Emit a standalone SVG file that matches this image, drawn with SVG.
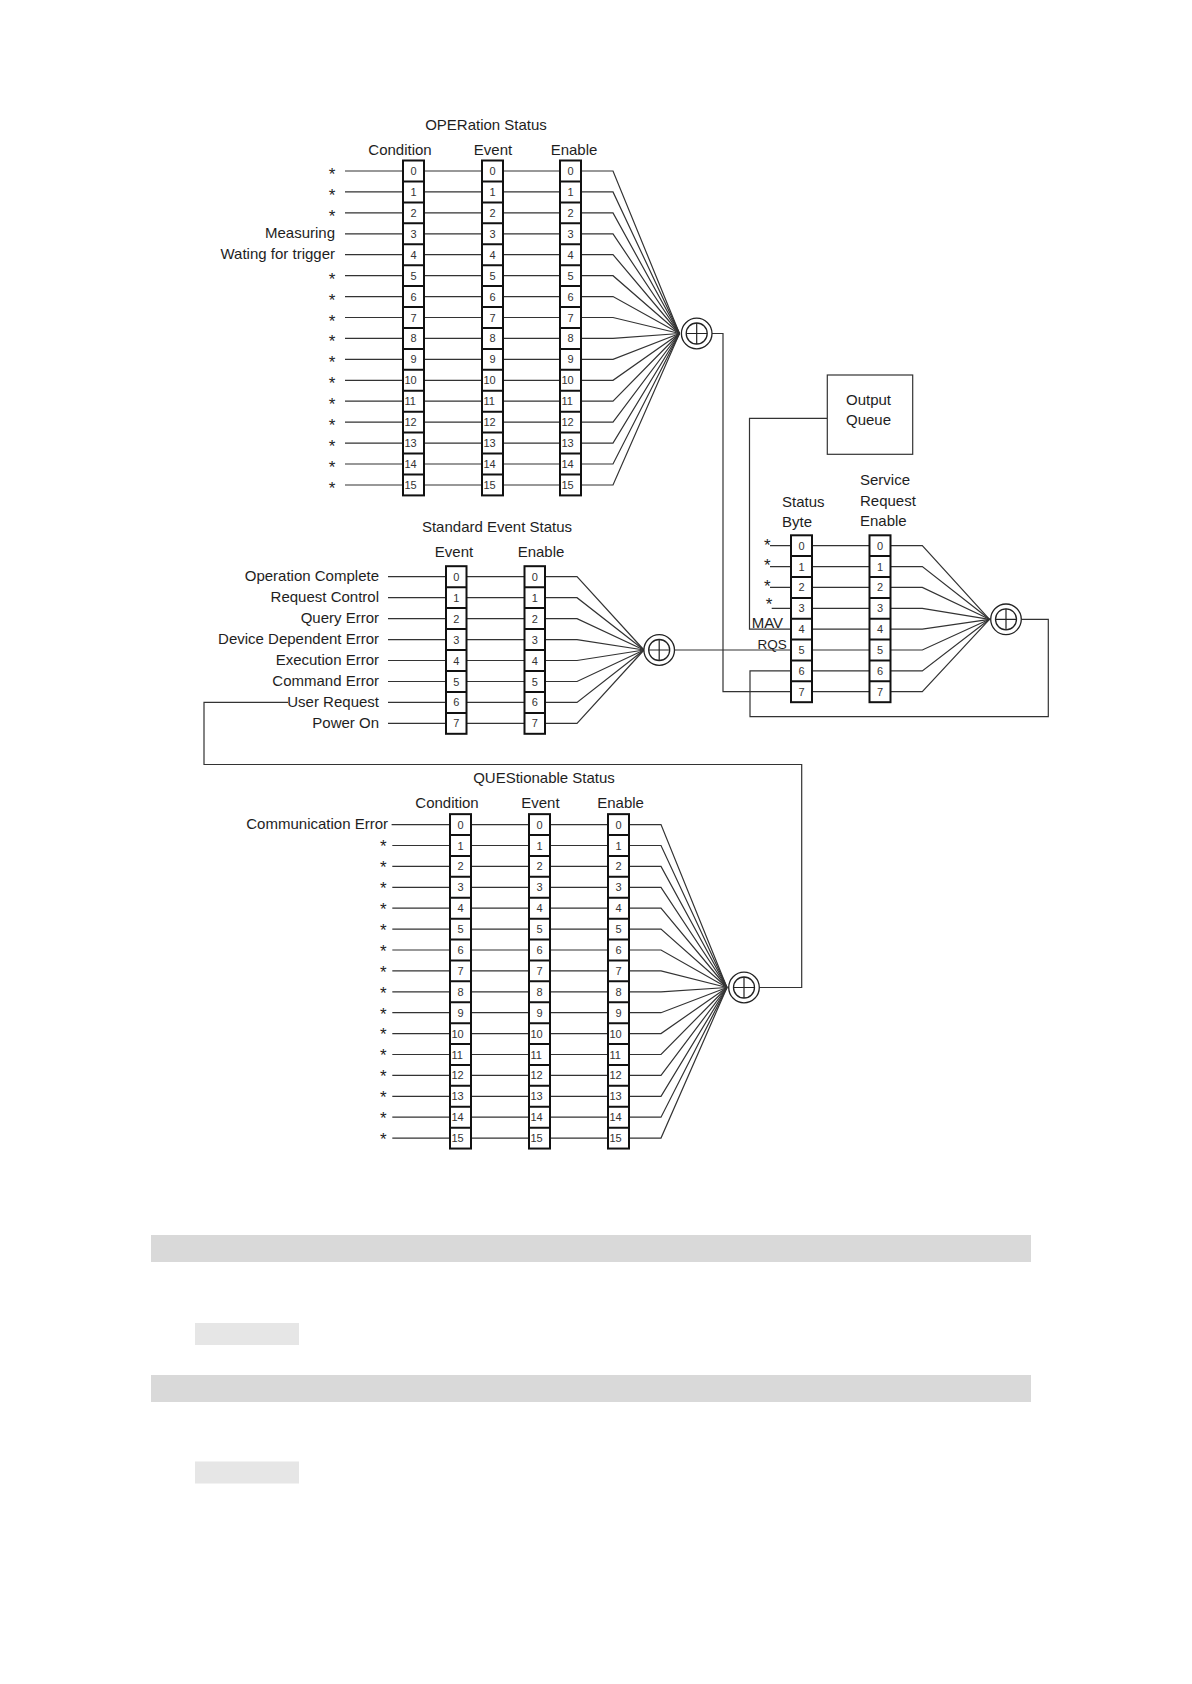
<svg xmlns="http://www.w3.org/2000/svg" width="1192" height="1684" viewBox="0 0 1192 1684">
<style>
text{font-family:"Liberation Sans",Arial,sans-serif;font-size:15px;fill:#1e1e1e}
.r{text-anchor:end}
.m{text-anchor:middle}
.st{font-size:17px;text-anchor:middle}
.d{font-size:11px;text-anchor:middle;fill:#333}
.dd{font-size:11px;fill:#333}
.reg{fill:#fff;stroke:#111;stroke-width:2}
.dv{fill:none;stroke:#111;stroke-width:2}
.ln{fill:none;stroke:#333;stroke-width:1.2}
.xo{fill:#fff;stroke:#222;stroke-width:1.3}
.xc{fill:none;stroke:#222;stroke-width:1.2}
.bar{fill:#d9d9d9}
.sb{fill:#e6e6e6}
</style>
<rect width="1192" height="1684" fill="#fff"/>

<g id="connectors">
<!-- OPERation rows -->
<path class="ln" d="M345 171H403M424 171H482M503 171H560M581 171H613L679.5 333.5"/>
<path class="ln" d="M345 191.9H403M424 191.9H482M503 191.9H560M581 191.9H613L679.5 333.5"/>
<path class="ln" d="M345 212.9H403M424 212.9H482M503 212.9H560M581 212.9H613L679.5 333.5"/>
<path class="ln" d="M345 233.8H403M424 233.8H482M503 233.8H560M581 233.8H613L679.5 333.5"/>
<path class="ln" d="M345 254.7H403M424 254.7H482M503 254.7H560M581 254.7H613L679.5 333.5"/>
<path class="ln" d="M345 275.7H403M424 275.7H482M503 275.7H560M581 275.7H613L679.5 333.5"/>
<path class="ln" d="M345 296.6H403M424 296.6H482M503 296.6H560M581 296.6H613L679.5 333.5"/>
<path class="ln" d="M345 317.5H403M424 317.5H482M503 317.5H560M581 317.5H613L679.5 333.5"/>
<path class="ln" d="M345 338.4H403M424 338.4H482M503 338.4H560M581 338.4H613L679.5 333.5"/>
<path class="ln" d="M345 359.4H403M424 359.4H482M503 359.4H560M581 359.4H613L679.5 333.5"/>
<path class="ln" d="M345 380.3H403M424 380.3H482M503 380.3H560M581 380.3H613L679.5 333.5"/>
<path class="ln" d="M345 401.2H403M424 401.2H482M503 401.2H560M581 401.2H613L679.5 333.5"/>
<path class="ln" d="M345 422.2H403M424 422.2H482M503 422.2H560M581 422.2H613L679.5 333.5"/>
<path class="ln" d="M345 443.1H403M424 443.1H482M503 443.1H560M581 443.1H613L679.5 333.5"/>
<path class="ln" d="M345 464H403M424 464H482M503 464H560M581 464H613L679.5 333.5"/>
<path class="ln" d="M345 485H403M424 485H482M503 485H560M581 485H613L679.5 333.5"/>
<path class="ln" d="M712 333.5H723V691.7H791"/>

<!-- Standard Event rows -->
<path class="ln" d="M388 576.7H446M466.5 576.7H524.5M545 576.7H577L644 650"/>
<path class="ln" d="M388 597.7H446M466.5 597.7H524.5M545 597.7H577L644 650"/>
<path class="ln" d="M388 618.6H446M466.5 618.6H524.5M545 618.6H577L644 650"/>
<path class="ln" d="M388 639.6H446M466.5 639.6H524.5M545 639.6H577L644 650"/>
<path class="ln" d="M388 660.5H446M466.5 660.5H524.5M545 660.5H577L644 650"/>
<path class="ln" d="M388 681.5H446M466.5 681.5H524.5M545 681.5H577L644 650"/>
<path class="ln" d="M388 702.4H446M466.5 702.4H524.5M545 702.4H577L644 650"/>
<path class="ln" d="M388 723.4H446M466.5 723.4H524.5M545 723.4H577L644 650"/>
<path class="ln" d="M674.5 650H791"/>

<!-- Status byte / SRE -->
<path class="ln" d="M827.3 418.3H749.5V629.1H791"/>
<path class="ln" d="M770 545.7H791M812 545.7H869.5M890.5 545.7H922.3L989.5 619.3"/>
<path class="ln" d="M770 566.6H791M812 566.6H869.5M890.5 566.6H922.3L989.5 619.3"/>
<path class="ln" d="M770 587.4H791M812 587.4H869.5M890.5 587.4H922.3L989.5 619.3"/>
<path class="ln" d="M771.7 608.3H791M812 608.3H869.5M890.5 608.3H922.3L989.5 619.3"/>
<path class="ln" d="M812 629.1H869.5M890.5 629.1H922.3L989.5 619.3"/>
<path class="ln" d="M812 650H869.5M890.5 650H922.3L989.5 619.3"/>
<path class="ln" d="M812 670.9H869.5M890.5 670.9H922.3L989.5 619.3"/>
<path class="ln" d="M812 691.7H869.5M890.5 691.7H922.3L989.5 619.3"/>
<path class="ln" d="M1021.3 619.3H1048.3V716.7H750V670.9H791"/>

<!-- QUEStionable rows -->
<path class="ln" d="M391.6 824.6H450M471 824.6H529M550 824.6H608M629 824.6H661L727 987.5"/>
<path class="ln" d="M392.3 845.5H450M471 845.5H529M550 845.5H608M629 845.5H661L727 987.5"/>
<path class="ln" d="M392.3 866.4H450M471 866.4H529M550 866.4H608M629 866.4H661L727 987.5"/>
<path class="ln" d="M392.3 887.3H450M471 887.3H529M550 887.3H608M629 887.3H661L727 987.5"/>
<path class="ln" d="M392.3 908.2H450M471 908.2H529M550 908.2H608M629 908.2H661L727 987.5"/>
<path class="ln" d="M392.3 929.1H450M471 929.1H529M550 929.1H608M629 929.1H661L727 987.5"/>
<path class="ln" d="M392.3 950H450M471 950H529M550 950H608M629 950H661L727 987.5"/>
<path class="ln" d="M392.3 970.9H450M471 970.9H529M550 970.9H608M629 970.9H661L727 987.5"/>
<path class="ln" d="M392.3 991.8H450M471 991.8H529M550 991.8H608M629 991.8H661L727 987.5"/>
<path class="ln" d="M392.3 1012.7H450M471 1012.7H529M550 1012.7H608M629 1012.7H661L727 987.5"/>
<path class="ln" d="M392.3 1033.6H450M471 1033.6H529M550 1033.6H608M629 1033.6H661L727 987.5"/>
<path class="ln" d="M392.3 1054.5H450M471 1054.5H529M550 1054.5H608M629 1054.5H661L727 987.5"/>
<path class="ln" d="M392.3 1075.4H450M471 1075.4H529M550 1075.4H608M629 1075.4H661L727 987.5"/>
<path class="ln" d="M392.3 1096.3H450M471 1096.3H529M550 1096.3H608M629 1096.3H661L727 987.5"/>
<path class="ln" d="M392.3 1117.2H450M471 1117.2H529M550 1117.2H608M629 1117.2H661L727 987.5"/>
<path class="ln" d="M392.3 1138.1H450M471 1138.1H529M550 1138.1H608M629 1138.1H661L727 987.5"/>
<path class="ln" d="M759.3 987.5H801.7V764.5H204V702.4H288"/>
</g>

<!-- OPERation Status -->
<g id="oper-labels">
<text class="m" x="486" y="130">OPERation Status</text>
<text class="m" x="400" y="155">Condition</text>
<text class="m" x="493" y="155">Event</text>
<text class="m" x="574" y="155">Enable</text>
<text class="st" x="332" y="180">*</text>
<text class="st" x="332" y="200.9">*</text>
<text class="st" x="332" y="221.9">*</text>
<text class="r" x="335" y="238.3">Measuring</text>
<text class="r" x="335" y="259.2">Wating for trigger</text>
<text class="st" x="332" y="284.7">*</text>
<text class="st" x="332" y="305.6">*</text>
<text class="st" x="332" y="326.5">*</text>
<text class="st" x="332" y="347.4">*</text>
<text class="st" x="332" y="368.4">*</text>
<text class="st" x="332" y="389.3">*</text>
<text class="st" x="332" y="410.2">*</text>
<text class="st" x="332" y="431.2">*</text>
<text class="st" x="332" y="452.1">*</text>
<text class="st" x="332" y="473">*</text>
<text class="st" x="332" y="494">*</text>
</g>
<g id="oper-condition" transform="translate(403,0)">
<rect class="reg" x="0" y="160.5" width="21" height="334.9"/>
<path class="dv" d="M0 181.4h21M0 202.4h21M0 223.3h21M0 244.2h21M0 265.2h21M0 286.1h21M0 307h21M0 327.9h21M0 348.9h21M0 369.8h21M0 390.7h21M0 411.7h21M0 432.6h21M0 453.5h21M0 474.5h21"/>
<text class="d" x="10.5" y="175">0</text><text class="d" x="10.5" y="195.9">1</text><text class="d" x="10.5" y="216.9">2</text><text class="d" x="10.5" y="237.8">3</text><text class="d" x="10.5" y="258.7">4</text><text class="d" x="10.5" y="279.7">5</text><text class="d" x="10.5" y="300.6">6</text><text class="d" x="10.5" y="321.5">7</text><text class="d" x="10.5" y="342.4">8</text><text class="d" x="10.5" y="363.4">9</text>
<text class="dd" x="1.5" y="384.3">10</text><text class="dd" x="1.5" y="405.2">11</text><text class="dd" x="1.5" y="426.2">12</text><text class="dd" x="1.5" y="447.1">13</text><text class="dd" x="1.5" y="468">14</text><text class="dd" x="1.5" y="489">15</text>
</g>
<g id="oper-event" transform="translate(482,0)">
<rect class="reg" x="0" y="160.5" width="21" height="334.9"/>
<path class="dv" d="M0 181.4h21M0 202.4h21M0 223.3h21M0 244.2h21M0 265.2h21M0 286.1h21M0 307h21M0 327.9h21M0 348.9h21M0 369.8h21M0 390.7h21M0 411.7h21M0 432.6h21M0 453.5h21M0 474.5h21"/>
<text class="d" x="10.5" y="175">0</text><text class="d" x="10.5" y="195.9">1</text><text class="d" x="10.5" y="216.9">2</text><text class="d" x="10.5" y="237.8">3</text><text class="d" x="10.5" y="258.7">4</text><text class="d" x="10.5" y="279.7">5</text><text class="d" x="10.5" y="300.6">6</text><text class="d" x="10.5" y="321.5">7</text><text class="d" x="10.5" y="342.4">8</text><text class="d" x="10.5" y="363.4">9</text>
<text class="dd" x="1.5" y="384.3">10</text><text class="dd" x="1.5" y="405.2">11</text><text class="dd" x="1.5" y="426.2">12</text><text class="dd" x="1.5" y="447.1">13</text><text class="dd" x="1.5" y="468">14</text><text class="dd" x="1.5" y="489">15</text>
</g>
<g id="oper-enable" transform="translate(560,0)">
<rect class="reg" x="0" y="160.5" width="21" height="334.9"/>
<path class="dv" d="M0 181.4h21M0 202.4h21M0 223.3h21M0 244.2h21M0 265.2h21M0 286.1h21M0 307h21M0 327.9h21M0 348.9h21M0 369.8h21M0 390.7h21M0 411.7h21M0 432.6h21M0 453.5h21M0 474.5h21"/>
<text class="d" x="10.5" y="175">0</text><text class="d" x="10.5" y="195.9">1</text><text class="d" x="10.5" y="216.9">2</text><text class="d" x="10.5" y="237.8">3</text><text class="d" x="10.5" y="258.7">4</text><text class="d" x="10.5" y="279.7">5</text><text class="d" x="10.5" y="300.6">6</text><text class="d" x="10.5" y="321.5">7</text><text class="d" x="10.5" y="342.4">8</text><text class="d" x="10.5" y="363.4">9</text>
<text class="dd" x="1.5" y="384.3">10</text><text class="dd" x="1.5" y="405.2">11</text><text class="dd" x="1.5" y="426.2">12</text><text class="dd" x="1.5" y="447.1">13</text><text class="dd" x="1.5" y="468">14</text><text class="dd" x="1.5" y="489">15</text>
</g>
<g id="oper-sum">
<circle class="xo" cx="696.7" cy="333.5" r="15.3"/>
<circle class="xo" cx="696.7" cy="333.5" r="10.5"/>
<path class="xc" d="M686.2 333.5H707.2M696.7 323V344"/>
</g>

<!-- Standard Event Status -->
<g id="ses-labels">
<text class="m" x="497" y="532">Standard Event Status</text>
<text class="m" x="454" y="557">Event</text>
<text class="m" x="541" y="557">Enable</text>
<text class="r" x="379" y="581.2">Operation Complete</text>
<text class="r" x="379" y="602.2">Request Control</text>
<text class="r" x="379" y="623.1">Query Error</text>
<text class="r" x="379" y="644.1">Device Dependent Error</text>
<text class="r" x="379" y="665">Execution Error</text>
<text class="r" x="379" y="686">Command Error</text>
<text class="r" x="379" y="706.9">User Request</text>
<text class="r" x="379" y="727.9">Power On</text>
</g>
<g id="ses-event" transform="translate(446,0)">
<rect class="reg" x="0" y="566.2" width="20.5" height="167.6"/>
<path class="dv" d="M0 587.2h20.5M0 608.1h20.5M0 629.1h20.5M0 650h20.5M0 671h20.5M0 691.9h20.5M0 712.9h20.5"/>
<text class="d" x="10.25" y="580.7">0</text><text class="d" x="10.25" y="601.7">1</text><text class="d" x="10.25" y="622.6">2</text><text class="d" x="10.25" y="643.6">3</text><text class="d" x="10.25" y="664.5">4</text><text class="d" x="10.25" y="685.5">5</text><text class="d" x="10.25" y="706.4">6</text><text class="d" x="10.25" y="727.4">7</text>
</g>
<g id="ses-enable" transform="translate(524.5,0)">
<rect class="reg" x="0" y="566.2" width="20.5" height="167.6"/>
<path class="dv" d="M0 587.2h20.5M0 608.1h20.5M0 629.1h20.5M0 650h20.5M0 671h20.5M0 691.9h20.5M0 712.9h20.5"/>
<text class="d" x="10.25" y="580.7">0</text><text class="d" x="10.25" y="601.7">1</text><text class="d" x="10.25" y="622.6">2</text><text class="d" x="10.25" y="643.6">3</text><text class="d" x="10.25" y="664.5">4</text><text class="d" x="10.25" y="685.5">5</text><text class="d" x="10.25" y="706.4">6</text><text class="d" x="10.25" y="727.4">7</text>
</g>
<g id="ses-sum">
<circle class="xo" cx="659.2" cy="650" r="15.3"/>
<circle class="xo" cx="659.2" cy="650" r="10.5"/>
<path class="xc" d="M648.7 650H669.7M659.2 639.5V660.5"/>
</g>

<!-- Output Queue -->
<g id="output-queue">
<rect x="827.3" y="375" width="85.4" height="79.3" fill="#fff" stroke="#333" stroke-width="1.2"/>
<text x="846" y="405">Output</text>
<text x="846" y="425">Queue</text>
</g>

<!-- Status Byte -->
<g id="sb-labels">
<text x="782" y="506.7">Status</text>
<text x="782" y="526.7">Byte</text>
<text class="st" x="767.3" y="550.5">*</text>
<text class="st" x="767.3" y="571.4">*</text>
<text class="st" x="767.3" y="592.2">*</text>
<text class="st" x="769" y="609.6">*</text>
<text x="751.7" y="628">MAV</text>
<text x="757.5" y="648.8" style="font-size:13.5px">RQS</text>
</g>
<g id="status-byte" transform="translate(791,0)">
<rect class="reg" x="0" y="535.3" width="21" height="166.9"/>
<path class="dv" d="M0 556.1h21M0 577h21M0 597.9h21M0 618.7h21M0 639.6h21M0 660.5h21M0 681.3h21"/>
<text class="d" x="10.5" y="549.7">0</text><text class="d" x="10.5" y="570.6">1</text><text class="d" x="10.5" y="591.4">2</text><text class="d" x="10.5" y="612.3">3</text><text class="d" x="10.5" y="633.1">4</text><text class="d" x="10.5" y="654">5</text><text class="d" x="10.5" y="674.9">6</text><text class="d" x="10.5" y="695.7">7</text>
</g>
<g id="sre-labels">
<text x="860" y="485">Service</text>
<text x="860" y="505.7">Request</text>
<text x="860" y="525.7">Enable</text>
</g>
<g id="service-request-enable" transform="translate(869.5,0)">
<rect class="reg" x="0" y="535.3" width="21" height="166.9"/>
<path class="dv" d="M0 556.1h21M0 577h21M0 597.9h21M0 618.7h21M0 639.6h21M0 660.5h21M0 681.3h21"/>
<text class="d" x="10.5" y="549.7">0</text><text class="d" x="10.5" y="570.6">1</text><text class="d" x="10.5" y="591.4">2</text><text class="d" x="10.5" y="612.3">3</text><text class="d" x="10.5" y="633.1">4</text><text class="d" x="10.5" y="654">5</text><text class="d" x="10.5" y="674.9">6</text><text class="d" x="10.5" y="695.7">7</text>
</g>
<g id="srq-sum">
<circle class="xo" cx="1006" cy="619.3" r="15.3"/>
<circle class="xo" cx="1006" cy="619.3" r="10.5"/>
<path class="xc" d="M995.5 619.3H1016.5M1006 608.8V629.8"/>
</g>

<!-- QUEStionable Status -->
<g id="ques-labels">
<text class="m" x="544" y="783">QUEStionable Status</text>
<text class="m" x="447" y="808">Condition</text>
<text class="m" x="540.4" y="808">Event</text>
<text class="m" x="620.6" y="808">Enable</text>
<text class="r" x="388" y="829.1">Communication Error</text>
<text class="st" x="383.3" y="852.3">*</text>
<text class="st" x="383.3" y="873.2">*</text>
<text class="st" x="383.3" y="894.1">*</text>
<text class="st" x="383.3" y="915">*</text>
<text class="st" x="383.3" y="935.9">*</text>
<text class="st" x="383.3" y="956.8">*</text>
<text class="st" x="383.3" y="977.7">*</text>
<text class="st" x="383.3" y="998.6">*</text>
<text class="st" x="383.3" y="1019.5">*</text>
<text class="st" x="383.3" y="1040.4">*</text>
<text class="st" x="383.3" y="1061.3">*</text>
<text class="st" x="383.3" y="1082.2">*</text>
<text class="st" x="383.3" y="1103.1">*</text>
<text class="st" x="383.3" y="1124">*</text>
<text class="st" x="383.3" y="1144.9">*</text>
</g>
<g id="ques-condition" transform="translate(450,0)">
<rect class="reg" x="0" y="814.15" width="21" height="334.4"/>
<path class="dv" d="M0 835.05h21M0 855.95h21M0 876.85h21M0 897.75h21M0 918.65h21M0 939.55h21M0 960.45h21M0 981.35h21M0 1002.25h21M0 1023.15h21M0 1044.05h21M0 1064.95h21M0 1085.85h21M0 1106.75h21M0 1127.65h21"/>
<text class="d" x="10.5" y="828.6">0</text><text class="d" x="10.5" y="849.5">1</text><text class="d" x="10.5" y="870.4">2</text><text class="d" x="10.5" y="891.3">3</text><text class="d" x="10.5" y="912.2">4</text><text class="d" x="10.5" y="933.1">5</text><text class="d" x="10.5" y="954">6</text><text class="d" x="10.5" y="974.9">7</text><text class="d" x="10.5" y="995.8">8</text><text class="d" x="10.5" y="1016.7">9</text>
<text class="dd" x="1.5" y="1037.6">10</text><text class="dd" x="1.5" y="1058.5">11</text><text class="dd" x="1.5" y="1079.4">12</text><text class="dd" x="1.5" y="1100.3">13</text><text class="dd" x="1.5" y="1121.2">14</text><text class="dd" x="1.5" y="1142.1">15</text>
</g>
<g id="ques-event" transform="translate(529,0)">
<rect class="reg" x="0" y="814.15" width="21" height="334.4"/>
<path class="dv" d="M0 835.05h21M0 855.95h21M0 876.85h21M0 897.75h21M0 918.65h21M0 939.55h21M0 960.45h21M0 981.35h21M0 1002.25h21M0 1023.15h21M0 1044.05h21M0 1064.95h21M0 1085.85h21M0 1106.75h21M0 1127.65h21"/>
<text class="d" x="10.5" y="828.6">0</text><text class="d" x="10.5" y="849.5">1</text><text class="d" x="10.5" y="870.4">2</text><text class="d" x="10.5" y="891.3">3</text><text class="d" x="10.5" y="912.2">4</text><text class="d" x="10.5" y="933.1">5</text><text class="d" x="10.5" y="954">6</text><text class="d" x="10.5" y="974.9">7</text><text class="d" x="10.5" y="995.8">8</text><text class="d" x="10.5" y="1016.7">9</text>
<text class="dd" x="1.5" y="1037.6">10</text><text class="dd" x="1.5" y="1058.5">11</text><text class="dd" x="1.5" y="1079.4">12</text><text class="dd" x="1.5" y="1100.3">13</text><text class="dd" x="1.5" y="1121.2">14</text><text class="dd" x="1.5" y="1142.1">15</text>
</g>
<g id="ques-enable" transform="translate(608,0)">
<rect class="reg" x="0" y="814.15" width="21" height="334.4"/>
<path class="dv" d="M0 835.05h21M0 855.95h21M0 876.85h21M0 897.75h21M0 918.65h21M0 939.55h21M0 960.45h21M0 981.35h21M0 1002.25h21M0 1023.15h21M0 1044.05h21M0 1064.95h21M0 1085.85h21M0 1106.75h21M0 1127.65h21"/>
<text class="d" x="10.5" y="828.6">0</text><text class="d" x="10.5" y="849.5">1</text><text class="d" x="10.5" y="870.4">2</text><text class="d" x="10.5" y="891.3">3</text><text class="d" x="10.5" y="912.2">4</text><text class="d" x="10.5" y="933.1">5</text><text class="d" x="10.5" y="954">6</text><text class="d" x="10.5" y="974.9">7</text><text class="d" x="10.5" y="995.8">8</text><text class="d" x="10.5" y="1016.7">9</text>
<text class="dd" x="1.5" y="1037.6">10</text><text class="dd" x="1.5" y="1058.5">11</text><text class="dd" x="1.5" y="1079.4">12</text><text class="dd" x="1.5" y="1100.3">13</text><text class="dd" x="1.5" y="1121.2">14</text><text class="dd" x="1.5" y="1142.1">15</text>
</g>
<g id="ques-sum">
<circle class="xo" cx="744" cy="987.5" r="15.3"/>
<circle class="xo" cx="744" cy="987.5" r="10.5"/>
<path class="xc" d="M733.5 987.5H754.5M744 977V998"/>
</g>

<!-- page blocks -->
<g id="page-bars">
<rect class="bar" x="151" y="1235" width="880" height="27"/>
<rect class="sb" x="195" y="1323" width="104" height="22"/>
<rect class="bar" x="151" y="1375" width="880" height="27"/>
<rect class="sb" x="195" y="1461.5" width="104" height="22"/>
</g>
</svg>
